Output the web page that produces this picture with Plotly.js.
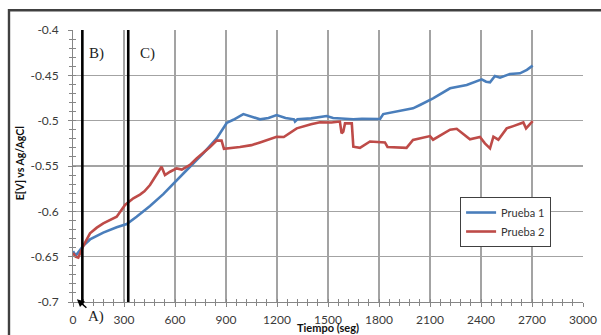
<!DOCTYPE html>
<html>
<head>
<meta charset="utf-8">
<script src="https://cdn.plot.ly/plotly-3.0.1.min.js"></script>
<style>html,body{margin:0;padding:0;background:#fff;}#chart{width:601px;height:335px;}</style>
</head>
<body>
<div id="chart"></div>
<script>
// ---- data ----
const seriesNames = ["Prueba 1", "Prueba 2"];

const t1 = [0, 10, 20, 35, 60, 100, 178, 257, 316, 374, 453, 531, 610, 688, 766, 845, 904, 943, 1002, 1040, 1100, 1150, 1198, 1250, 1300, 1306, 1320, 1400, 1492, 1530, 1570, 1649, 1700, 1806, 1825, 1904, 2000, 2041, 2100, 2118, 2218, 2316, 2404, 2430, 2453, 2482, 2512, 2570, 2629, 2670, 2704];
const v1 = [-0.644, -0.647, -0.648, -0.644, -0.638, -0.631, -0.6235, -0.6176, -0.614, -0.606, -0.594, -0.581, -0.5654, -0.5508, -0.536, -0.5195, -0.5025, -0.499, -0.4927, -0.495, -0.4985, -0.497, -0.4938, -0.497, -0.4985, -0.501, -0.4985, -0.4975, -0.4949, -0.497, -0.4974, -0.4985, -0.498, -0.4982, -0.4927, -0.490, -0.4864, -0.4827, -0.477, -0.4754, -0.4643, -0.4607, -0.4544, -0.457, -0.4577, -0.4507, -0.4526, -0.4485, -0.4478, -0.444, -0.4393];

const t2 = [0, 15, 31, 45, 61, 100, 140, 178, 220, 257, 306, 355, 394, 420, 453, 502, 521, 541, 571, 610, 640, 688, 727, 806, 845, 874, 888, 982, 1050, 1100, 1198, 1240, 1316, 1400, 1453, 1520, 1570, 1580, 1590, 1600, 1640, 1649, 1688, 1747, 1835, 1850, 1962, 2000, 2100, 2118, 2218, 2257, 2316, 2335, 2394, 2423, 2453, 2473, 2502, 2551, 2590, 2649, 2665, 2704];
const v2 = [-0.646, -0.650, -0.651, -0.645, -0.638, -0.6243, -0.618, -0.6133, -0.609, -0.606, -0.593, -0.5856, -0.5815, -0.578, -0.571, -0.5563, -0.5508, -0.560, -0.5563, -0.5527, -0.554, -0.5489, -0.5417, -0.529, -0.522, -0.522, -0.531, -0.529, -0.527, -0.524, -0.5177, -0.518, -0.5085, -0.504, -0.5018, -0.502, -0.501, -0.514, -0.512, -0.503, -0.503, -0.5287, -0.530, -0.523, -0.524, -0.529, -0.530, -0.5213, -0.517, -0.521, -0.510, -0.509, -0.5177, -0.5206, -0.518, -0.525, -0.5305, -0.5177, -0.521, -0.5085, -0.506, -0.502, -0.5085, -0.5004];

const xTickVals = [0, 300, 600, 900, 1200, 1500, 1800, 2100, 2400, 2700, 3000];
const yTickVals = [-0.7, -0.65, -0.6, -0.55, -0.5, -0.45, -0.4];
const yTickText = ["-0.7", "-0.65", "-0.6", "-0.55", "-0.5", "-0.45", "-0.4"];

// phase markers (time, seconds) and their labels
const phaseTimes = [55, 325];
const phaseLabels = ["B)", "C)"];
const phaseLabelTimes = [80, 380];
const startLabel = "A)";
const xTitle = "Tiempo (seg)";
const yTitle = "E[V] vs Ag/AgCl";

// ---- styling ----
const tickFont = {family: "Lato, 'Open Sans', sans-serif", size: 12, color: "#3a3a3a"};
const serifFont = {family: "'Liberation Serif', 'DejaVu Serif', serif", size: 15, color: "#222"};
const gridColor = "#a3a3a3";
const axisColor = "#868686";

const traces = [
  {x: t1, y: v1, name: seriesNames[0], type: "scatter", mode: "lines",
   line: {color: "#4a7ebb", width: 2.6}},
  {x: t2, y: v2, name: seriesNames[1], type: "scatter", mode: "lines",
   line: {color: "#be4b48", width: 2.6}},
  {x: [], y: [], xaxis: "x2", yaxis: "y2", showlegend: false, hoverinfo: "skip", type: "scatter"}
];

const shapes = phaseTimes.map(tv => ({
  type: "line", xref: "x", yref: "paper", x0: tv, x1: tv, y0: 0, y1: 1,
  line: {color: "#000", width: 2.6}
}));
// chart frame (Excel chart area border)
shapes.push({type: "rect", xref: "paper", yref: "paper",
  x0: -0.1255, x1: 1.3, y0: -0.4, y1: 1.0724,
  line: {color: "#404040", width: 2.4}, fillcolor: "rgba(0,0,0,0)"});

const annotations = phaseLabels.map((lab, i) => ({
  text: lab, x: phaseLabelTimes[i], xref: "x", y: 0.9154, yref: "paper",
  xanchor: "left", yanchor: "middle", showarrow: false, font: serifFont
}));
annotations.push({
  text: startLabel, x: 23, y: -0.697, xref: "x", yref: "y",
  showarrow: true, ax: 19, ay: 17, arrowhead: 2, arrowsize: 1, arrowwidth: 1.5,
  arrowcolor: "#000", standoff: 0, font: serifFont
});
annotations.push({
  text: "<b>" + xTitle + "</b>", xref: "paper", yref: "paper", x: 0.5, y: -0.092,
  xanchor: "center", yanchor: "middle", showarrow: false,
  font: {family: "Lato, 'Open Sans', sans-serif", size: 11, color: "#111"}
});
annotations.push({
  text: "<b>" + yTitle + "</b>", xref: "paper", yref: "paper", x: -0.104, y: 0.51,
  xanchor: "center", yanchor: "middle", showarrow: false, textangle: -90,
  font: {family: "Lato, 'Open Sans', sans-serif", size: 10.5, color: "#111"}
});

const layout = {
  width: 601, height: 335,
  margin: {l: 73, r: 18, t: 30, b: 33},
  paper_bgcolor: "#fff", plot_bgcolor: "#fff",
  showlegend: true,
  legend: {x: 0.759, y: 0.386, xanchor: "left", yanchor: "top",
    bgcolor: "#fff", bordercolor: "#404040", borderwidth: 1,
    font: {family: "Lato, 'Open Sans', sans-serif", size: 11, color: "#333"},
    tracegroupgap: 2, itemwidth: 30},
  xaxis: {range: [0, 3000], tickmode: "array", tickvals: xTickVals,
    showgrid: true, gridcolor: gridColor, gridwidth: 1.2, zeroline: false,
    showline: true, linecolor: axisColor, linewidth: 1,
    ticks: "outside", ticklen: 4, tickcolor: axisColor, ticklabelstandoff: 3,
    minor: {dtick: 60, tick0: 0, ticks: "outside", ticklen: 3, tickcolor: axisColor, showgrid: false},
    tickfont: tickFont, fixedrange: true},
  yaxis: {range: [-0.7, -0.4], tickmode: "array", tickvals: yTickVals, ticktext: yTickText,
    showgrid: true, gridcolor: gridColor, gridwidth: 1.2, zeroline: false,
    showline: true, linecolor: axisColor, linewidth: 1,
    ticks: "outside", ticklen: 4, tickcolor: axisColor, ticklabelstandoff: 7,
    minor: {dtick: 0.01, tick0: -0.7, ticks: "outside", ticklen: 3, tickcolor: axisColor, showgrid: false},
    tickfont: tickFont, fixedrange: true},
  xaxis2: {range: [0, 3000], overlaying: "x", anchor: "y2", side: "bottom",
    tickmode: "array", tickvals: xTickVals, showticklabels: false,
    showgrid: false, zeroline: false, showline: false,
    ticks: "inside", ticklen: 3, tickcolor: axisColor,
    minor: {dtick: 60, tick0: 0, ticks: "inside", ticklen: 3, tickcolor: axisColor, showgrid: false},
    fixedrange: true},
  yaxis2: {range: [-0.7, -0.4], overlaying: "y", anchor: "x2", side: "left",
    tickmode: "array", tickvals: yTickVals, showticklabels: false,
    showgrid: false, zeroline: false, showline: false,
    ticks: "inside", ticklen: 3, tickcolor: axisColor,
    minor: {dtick: 0.01, tick0: -0.7, ticks: "inside", ticklen: 3, tickcolor: axisColor, showgrid: false},
    fixedrange: true},
  shapes: shapes,
  annotations: annotations
};

Plotly.newPlot("chart", traces, layout, {displayModeBar: false, staticPlot: true});
</script>
</body>
</html>
